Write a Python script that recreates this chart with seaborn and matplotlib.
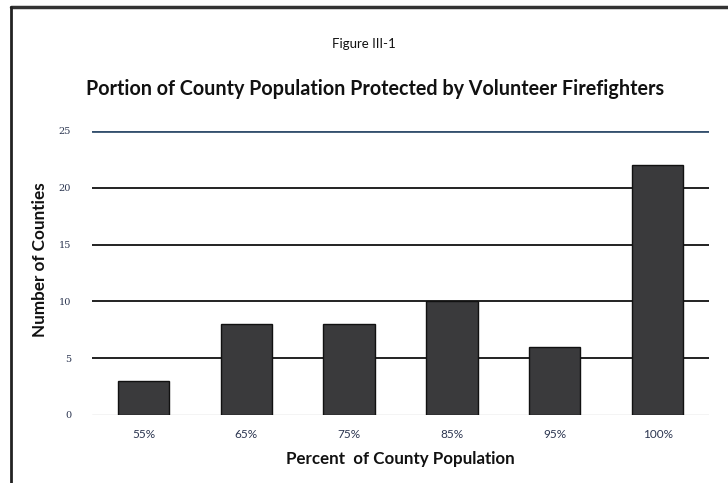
import matplotlib
matplotlib.use("Agg")
import matplotlib.pyplot as plt
import seaborn as sns
import pandas as pd
from matplotlib.lines import Line2D

categories = ["55%", "65%", "75%", "85%", "95%", "100%"]
counties = [3, 8, 8, 10, 6, 22]
y_ticks = [0, 5, 10, 15, 20, 25]

sns.set_theme(style="white")
plt.rcParams['font.family'] = ['Lato', 'DejaVu Sans']

df = pd.DataFrame({"pct": categories, "n": counties})

fig = plt.figure(figsize=(7.28, 4.83), dpi=100)
ax = fig.add_axes([92 / 728, 1 - 415 / 483, (709 - 92) / 728, (415 - 131) / 483])

sns.barplot(data=df, x="pct", y="n", color="#3a3a3c", width=0.5,
            edgecolor="#111111", linewidth=1.0, saturation=1, ax=ax, zorder=3)

ax.set_ylim(0, 25)
ax.set_xlim(-0.5, len(categories) - 0.5)
ax.set_yticks(y_ticks)
ax.set_yticklabels([str(t) for t in y_ticks], fontsize=7, color="#2b3550", family="DejaVu Serif")
ax.tick_params(axis="y", length=0, pad=15)
ax.tick_params(axis="x", length=0, pad=10)
for lab in ax.get_xticklabels():
    lab.set_fontsize(8.5)
    lab.set_color("#2b3550")

for t in y_ticks:
    if t == 0:
        ax.axhline(t, color="#c8c8c8", lw=1.0, zorder=1)
    elif t == 25:
        ax.axhline(t, color="#34506e", lw=2.0, zorder=1)
    else:
        ax.axhline(t, color="#111111", lw=1.3, zorder=1)

for s in ax.spines.values():
    s.set_visible(False)

ax.set_xlabel("Percent  of County Population", fontsize=12.2, fontweight="bold", color="#111111", labelpad=8)
ax.set_ylabel("Number of Counties", fontsize=12.3, fontweight="bold", color="#111111")
ax.yaxis.set_label_coords(-0.072, 0.546)

fig.text(0.5, 1 - 44 / 483, "Figure III-1", ha="center", va="center", fontsize=9.5, color="#111111")
fig.text(375 / 728, 1 - 89 / 483, "Portion of County Population Protected by Volunteer Firefighters",
         ha="center", va="center", fontsize=14.2, fontweight="bold", color="#111111")

# frame lines
fig.add_artist(Line2D([11 / 728, 1.0], [1 - 7 / 483, 1 - 7 / 483], transform=fig.transFigure,
                      color="#333333", lw=2.5))
fig.add_artist(Line2D([11 / 728, 11 / 728], [0, 1 - 7 / 483], transform=fig.transFigure,
                      color="#222222", lw=2.0))

fig.savefig("out.png", dpi=100)
